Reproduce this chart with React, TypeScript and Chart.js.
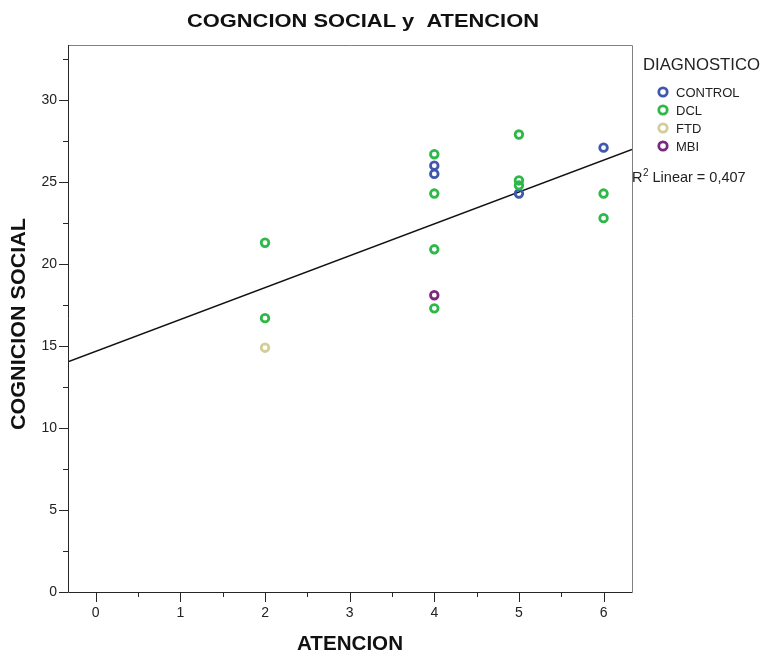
import { useEffect, useRef } from "react";
import { Chart, registerables } from "chart.js";

Chart.register(...registerables);

// ATENCION (x) and COGNICION SOCIAL (y) by diagnostic group
const controlX = [4, 4, 5, 6];
const controlY = [26.0, 25.5, 24.3, 27.1];
const dclX = [2, 2, 4, 4, 4, 4, 5, 5, 5, 6, 6];
const dclY = [21.3, 16.7, 26.7, 24.3, 20.9, 17.3, 27.9, 25.1, 24.8, 24.3, 22.8];
const ftdX = [2];
const ftdY = [14.9];
const mbiX = [4];
const mbiY = [18.1];

const groupNames = ["CONTROL", "DCL", "FTD", "MBI"];
const groupColors = ["#3E58AC", "#2EB848", "#D3CE97", "#7C287D"];

// Linear fit line (total sample)
const fitIntercept = 14.68;
const fitSlope = 1.943;
const fitLabel = "Linear = 0,407";

// Axis ranges and ticks
const xMin = -0.328;
const xMax = 6.336;
const yMin = 0;
const yMax = 33.36;
const xMajorTicks = [0, 1, 2, 3, 4, 5, 6];
const xMinorTicks = [0.5, 1.5, 2.5, 3.5, 4.5, 5.5];
const yMajorTicks = [0, 5, 10, 15, 20, 25, 30];
const yMinorTicks = [2.5, 7.5, 12.5, 17.5, 22.5, 27.5, 32.5];

const chartTitle = "COGNCION SOCIAL y  ATENCION";
const xTitle = "ATENCION";
const yTitle = "COGNICION SOCIAL";
const legendTitle = "DIAGNOSTICO";

const FONT = '"Liberation Sans", Arial, sans-serif';

function toPoints(xs: number[], ys: number[]) {
  return xs.map((x, i) => ({ x, y: ys[i] }));
}

function fitText(
  ctx: CanvasRenderingContext2D,
  text: string,
  x: number,
  y: number,
  font: string,
  width: number,
  align: CanvasTextAlign
) {
  ctx.save();
  ctx.font = font;
  const w = ctx.measureText(text).width;
  const sx = width / w;
  ctx.translate(x, y);
  ctx.scale(sx, 1);
  ctx.textAlign = align;
  ctx.textBaseline = "alphabetic";
  ctx.fillText(text, 0, 0);
  ctx.restore();
}

const spssFrame = {
  id: "spssFrame",
  afterDraw(chart: any) {
    const ctx: CanvasRenderingContext2D = chart.ctx;
    const { left, right, top, bottom } = chart.chartArea;
    const xs = chart.scales.x;
    const ys = chart.scales.y;
    ctx.save();

    // frame
    ctx.lineWidth = 1;
    ctx.strokeStyle = "#808080";
    ctx.beginPath();
    ctx.moveTo(left, top + 0.5);
    ctx.lineTo(right + 0.5, top + 0.5);
    ctx.lineTo(right + 0.5, bottom);
    ctx.stroke();
    ctx.strokeStyle = "#262626";
    ctx.beginPath();
    ctx.moveTo(left + 0.5, top);
    ctx.lineTo(left + 0.5, bottom + 0.5);
    ctx.lineTo(right + 0.5, bottom + 0.5);
    ctx.stroke();

    // y ticks
    ctx.beginPath();
    yMajorTicks.forEach((v) => {
      const py = Math.round(ys.getPixelForValue(v)) + 0.5;
      ctx.moveTo(left - 9, py);
      ctx.lineTo(left, py);
    });
    yMinorTicks.forEach((v) => {
      const py = Math.round(ys.getPixelForValue(v)) + 0.5;
      ctx.moveTo(left - 5, py);
      ctx.lineTo(left, py);
    });
    // x ticks
    xMajorTicks.forEach((v) => {
      const px = Math.round(xs.getPixelForValue(v)) + 0.5;
      ctx.moveTo(px, bottom);
      ctx.lineTo(px, bottom + 10);
    });
    xMinorTicks.forEach((v) => {
      const px = Math.round(xs.getPixelForValue(v)) + 0.5;
      ctx.moveTo(px, bottom);
      ctx.lineTo(px, bottom + 5);
    });
    ctx.stroke();

    // tick labels
    ctx.fillStyle = "#222";
    ctx.font = `14px ${FONT}`;
    ctx.textAlign = "right";
    ctx.textBaseline = "middle";
    yMajorTicks.forEach((v) => {
      ctx.fillText(String(v), left - 11, ys.getPixelForValue(v) + 0.5);
    });
    ctx.textAlign = "center";
    ctx.textBaseline = "alphabetic";
    xMajorTicks.forEach((v) => {
      ctx.fillText(String(v), xs.getPixelForValue(v), bottom + 25);
    });

    // titles
    ctx.fillStyle = "#111";
    fitText(ctx, chartTitle, 363, 27, `bold 19px ${FONT}`, 352, "center");
    fitText(ctx, xTitle, 350, 650, `bold 20px ${FONT}`, 106, "center");
    ctx.save();
    ctx.translate(25, 324);
    ctx.rotate(-Math.PI / 2);
    fitText(ctx, yTitle, 0, 0, `bold 20px ${FONT}`, 212, "center");
    ctx.restore();

    // legend
    ctx.fillStyle = "#222";
    fitText(ctx, legendTitle, 643, 70, `17px ${FONT}`, 117, "left");
    groupNames.forEach((name, i) => {
      const cy = 92 + i * 18;
      ctx.beginPath();
      ctx.arc(663, cy, 4.2, 0, Math.PI * 2);
      ctx.strokeStyle = groupColors[i];
      ctx.lineWidth = 2.8;
      ctx.stroke();
      ctx.fillStyle = "#222";
      ctx.font = `13px ${FONT}`;
      ctx.textAlign = "left";
      ctx.textBaseline = "alphabetic";
      ctx.fillText(name, 676, cy + 5);
    });

    // fit label
    ctx.font = `14.5px ${FONT}`;
    ctx.textAlign = "left";
    ctx.fillText("R", 632, 181.5);
    const rw = ctx.measureText("R").width;
    ctx.font = `10px ${FONT}`;
    ctx.fillText("2", 632 + rw + 0.5, 176);
    const sw = ctx.measureText("2").width;
    ctx.font = `14.5px ${FONT}`;
    ctx.fillText(fitLabel, 632 + rw + sw + 4.5, 181.5);

    ctx.restore();
  },
};

export default function App() {
  const canvasRef = useRef<HTMLCanvasElement | null>(null);

  useEffect(() => {
    const canvas = canvasRef.current;
    if (!canvas) return;
    const pointSets = [
      toPoints(controlX, controlY),
      toPoints(dclX, dclY),
      toPoints(ftdX, ftdY),
      toPoints(mbiX, mbiY),
    ];
    const fitLine = [xMin, xMax].map((x) => ({ x, y: fitIntercept + fitSlope * x }));

    const chart = new Chart(canvas, {
      type: "scatter",
      data: {
        datasets: [
          ...pointSets.map((pts, i) => ({
            label: groupNames[i],
            data: pts,
            borderColor: groupColors[i],
            backgroundColor: "rgba(0,0,0,0)",
            pointRadius: 3.8,
            pointBorderWidth: 2.8,
            pointHoverRadius: 3.8,
            showLine: false,
            order: i === 1 ? 0 : 1,
          })),
          {
            label: "Linear",
            type: "line" as const,
            data: fitLine,
            borderColor: "#111",
            borderWidth: 1.5,
            pointRadius: 0,
            showLine: true,
            fill: false,
            order: 10,
          },
        ],
      },
      options: {
        responsive: false,
        animation: false,
        devicePixelRatio: 1,
        layout: { padding: { left: 68, right: 132, top: 45, bottom: 64 } },
        plugins: {
          legend: { display: false },
          title: { display: false },
          tooltip: { enabled: false },
        },
        scales: {
          x: { type: "linear", min: xMin, max: xMax, display: false },
          y: { type: "linear", min: yMin, max: yMax, display: false },
        },
      },
      plugins: [spssFrame],
    } as any);

    return () => chart.destroy();
  }, []);

  return (
    <div
      style={{
        position: "fixed",
        left: 0,
        top: 0,
        width: 764,
        height: 656,
        background: "#fff",
      }}
    >
      <canvas ref={canvasRef} width={764} height={656} style={{ display: "block" }} />
    </div>
  );
}
